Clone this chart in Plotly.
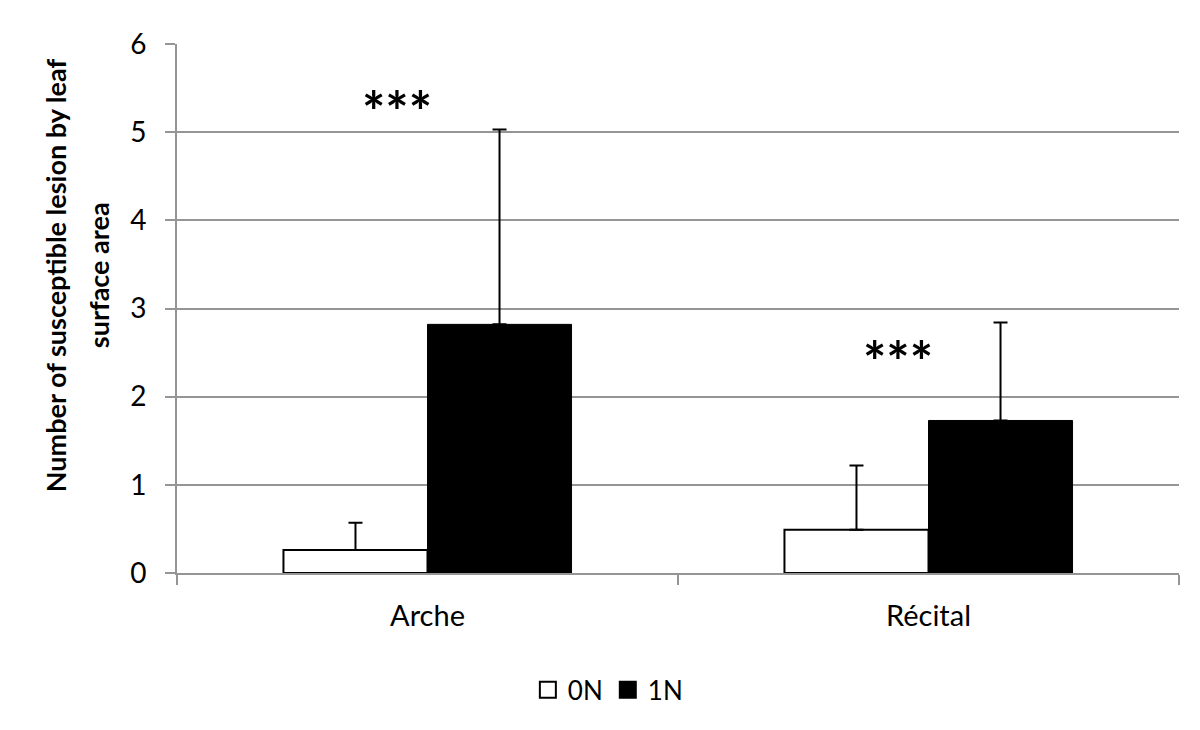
import plotly.graph_objects as go

categories = ["Arche", "Récital"]
series_names = ["0N", "1N"]
values_0N = [0.26, 0.49]
errors_0N = [0.31, 0.73]
values_1N = [2.82, 1.73]
errors_1N = [2.21, 1.11]
significance = ["***", "***"]
significance_y = [5.24, 2.40]
y_ticks = [0, 1, 2, 3, 4, 5, 6]
y_title_lines = ["Number of susceptible lesion by leaf", "surface area"]

FONT = "Lato"
GRID = "#959595"
# page body has an 8px default margin: compensate so the plot lands where the reference has it
PAGE_OFFSET = 8

fig = go.Figure()
fig.add_trace(go.Bar(
    name=series_names[0], x=categories, y=values_0N, showlegend=False,
    marker=dict(color="white", line=dict(color="black", width=2)),
    error_y=dict(type="data", array=errors_0N, arrayminus=[0] * len(errors_0N),
                 symmetric=False, color="black", thickness=2, width=7),
))
fig.add_trace(go.Bar(
    name=series_names[1], x=categories, y=values_1N, showlegend=False,
    marker=dict(color="black", line=dict(color="black", width=1)),
    error_y=dict(type="data", array=errors_1N, arrayminus=[0] * len(errors_1N),
                 symmetric=False, color="black", thickness=2, width=7),
))
# legend entries with larger square symbols
fig.add_trace(go.Scatter(
    name=series_names[0], x=[None], y=[None], mode="markers",
    marker=dict(symbol="square", size=16, color="white", line=dict(color="black", width=2)),
))
fig.add_trace(go.Scatter(
    name=series_names[1], x=[None], y=[None], mode="markers",
    marker=dict(symbol="square", size=16, color="black", line=dict(color="black", width=2)),
))

for i, (s, yv) in enumerate(zip(significance, significance_y)):
    fig.add_annotation(x=i - 0.06, y=yv, text=s, showarrow=False,
                       xref="x", yref="y",
                       font=dict(family=FONT, size=55, color="black", weight="bold"))

for line, xs in zip(y_title_lines, [-122, -79]):
    fig.add_annotation(x=0, y=0.563, xref="paper", yref="paper", xshift=xs,
                       text=line, textangle=-90, showarrow=False,
                       xanchor="center", yanchor="middle",
                       font=dict(family=FONT, size=27, color="black", weight="bold"))

fig.update_layout(
    width=1200 - PAGE_OFFSET, height=730 - PAGE_OFFSET,
    margin=dict(l=177 - PAGE_OFFSET, r=21, t=44 - PAGE_OFFSET, b=157, pad=0),
    paper_bgcolor="white", plot_bgcolor="white",
    barmode="group", bargap=0.425, bargroupgap=0,
    font=dict(family=FONT, size=26, color="black"),
    showlegend=True,
    legend=dict(orientation="h", x=0.43, xanchor="center", y=-0.221, yanchor="middle",
                font=dict(family=FONT, size=26, color="black"),
                itemsizing="trace", traceorder="normal"),
    xaxis=dict(showline=True, linecolor=GRID, linewidth=2,
               ticks="outside", tickson="boundaries", ticklen=10, tickcolor=GRID,
               tickwidth=2, tickfont=dict(family=FONT, size=29, color="black"),
               ticklabelstandoff=16, showgrid=False),
    yaxis=dict(range=[0, 6], tickvals=y_ticks, showline=True, linecolor=GRID,
               linewidth=2, ticks="outside", ticklen=10, tickcolor=GRID, tickwidth=2,
               showgrid=True, gridcolor=GRID, gridwidth=2, zeroline=False,
               ticklabelstandoff=13,
               tickfont=dict(family=FONT, size=28, color="black")),
)

fig.write_html("out.html")
